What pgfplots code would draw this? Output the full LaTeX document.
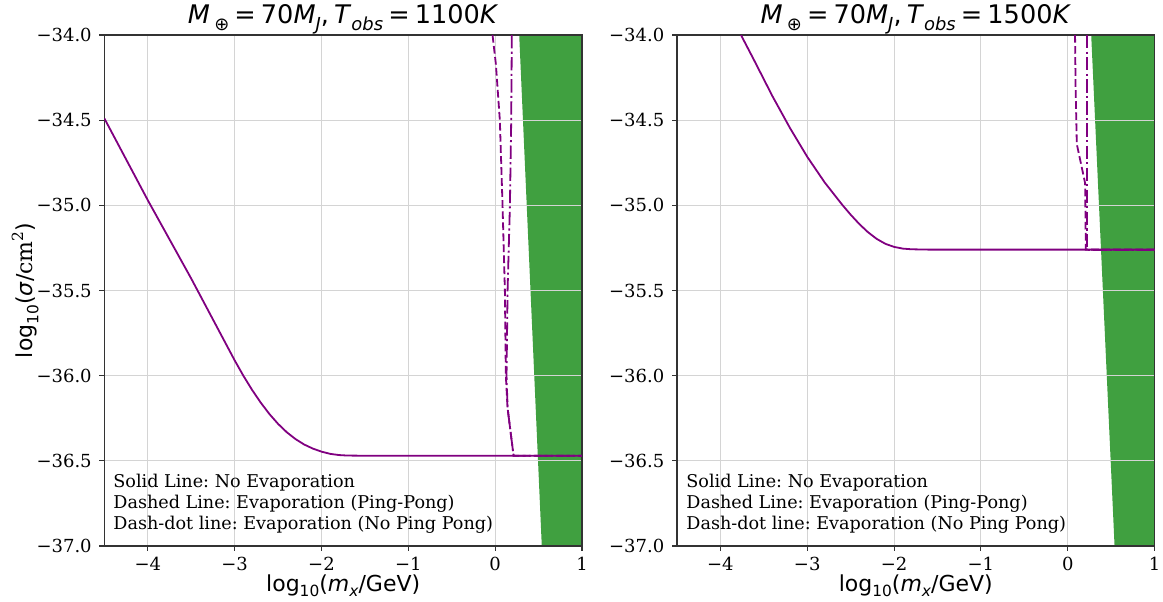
\documentclass[border=0pt]{standalone}
\usepackage{fontspec}
\setmainfont{DejaVu Serif}
\newfontfamily\dvs{DejaVu Sans}
\usepackage{pgfplots}
\pgfplotsset{compat=1.18}
\definecolor{mpurple}{RGB}{128,0,128}
\definecolor{mgreen}{RGB}{64,160,64}
\definecolor{gridc}{RGB}{212,212,212}
\newcommand\sub[1]{\raisebox{-0.25em}{\scalebox{0.7}{#1}}}
\newcommand\sups[1]{\raisebox{0.45em}{\scalebox{0.7}{#1}}}
\newcommand\tsp{\hspace{0.2em}}
\pgfplotsset{myax/.style={
  scale only axis, width=238.8pt, height=255.5pt,
  xmin=-4.5, xmax=1, ymin=-37, ymax=-34,
  xtick={-4,-3,-2,-1,0,1}, xticklabels={−4,−3,−2,−1,0,1},
  ytick={-37,-36.5,-36,-35.5,-35,-34.5,-34},
  yticklabels={−37.0,−36.5,−36.0,−35.5,−35.0,−34.5,−34.0},
  tick align=outside, major tick length=2.45pt, xtick pos=lower, ytick pos=left,
  grid=major, major grid style={gridc, line width=0.5pt},
  axis line style={black!80, line width=0.55pt},
  tick style={black!80, line width=0.55pt},
  ticklabel style={font=\fontsize{9}{10}\selectfont},
  xticklabel style={anchor=north, inner sep=0pt, yshift=-2.8pt},
  yticklabel style={anchor=east, inner sep=0pt, xshift=-3.7pt},
  set layers,
  solid/.style={mpurple, line width=0.9pt},
  dsh/.style={mpurple, line width=0.9pt, dash pattern=on 3.85pt off 1.67pt},
  dd/.style={mpurple, line width=0.9pt, dash pattern=on 6.67pt off 1.67pt on 1.04pt off 1.67pt},
}}
\newcommand\notefont{\fontsize{8.8}{10}\selectfont\frenchspacing}
\newcommand\titlefont{\dvs\fontsize{12.8}{15}\selectfont}
\newcommand\labfont{\dvs\fontsize{11}{13}\selectfont}
\begin{document}
\begin{tikzpicture}
\begin{axis}[myax, at={(0pt,0pt)}, anchor=south west]
\addplot[fill=mgreen, draw=none, on layer=axis background] coordinates {(0.277,-34) (1,-34) (1,-37) (0.537,-37)} -- cycle;
\addplot[solid] coordinates {(-4.5,-34.49) (-4.25,-34.73) (-4.0,-34.97) (-3.75,-35.2) (-3.5,-35.43) (-3.25,-35.67) (-3.0,-35.91) (-2.9,-36.0) (-2.8,-36.083) (-2.7,-36.158) (-2.6,-36.225) (-2.5,-36.283) (-2.4,-36.332) (-2.3,-36.372) (-2.2,-36.404) (-2.1,-36.428) (-2.0,-36.446) (-1.9,-36.459) (-1.8,-36.466) (-1.7,-36.469) (-1.5,-36.47) (1.0,-36.47)};
\addplot[dsh] coordinates {(-0.030,-34.0) (0.008,-34.17) (0.054,-34.5) (0.085,-35.0) (0.112,-35.5) (0.123,-36.0) (0.143,-36.19) (0.212,-36.47) (1.0,-36.47)};
\addplot[dd] coordinates {(0.192,-34.0) (0.185,-34.5) (0.170,-35.0) (0.143,-35.5) (0.131,-36.0) (0.143,-36.19) (0.212,-36.47) (1.0,-36.47)};
\end{axis}
\begin{axis}[myax, at={(286.3pt,0pt)}, anchor=south west]
\addplot[fill=mgreen, draw=none, on layer=axis background] coordinates {(0.270,-34) (1,-34) (1,-37) (0.539,-37)} -- cycle;
\addplot[solid] coordinates {(-3.763,-34.0) (-3.6,-34.16) (-3.4,-34.36) (-3.2,-34.545) (-3.0,-34.715) (-2.8,-34.865) (-2.6,-34.995) (-2.5,-35.055) (-2.4,-35.11) (-2.3,-35.158) (-2.2,-35.197) (-2.1,-35.226) (-2.0,-35.244) (-1.9,-35.254) (-1.8,-35.258) (-1.6,-35.26) (1.0,-35.26)};
\addplot[dsh] coordinates {(0.084,-34.0) (0.090,-34.3) (0.104,-34.64) (0.200,-34.87) (0.208,-35.26) (1.0,-35.26)};
\addplot[dd] coordinates {(0.219,-34.0) (0.219,-35.26) (1.0,-35.26)};
\end{axis}
% titles
\node[anchor=base, inner sep=0pt] at (119.4pt,261pt) {\titlefont\textit{M}\,\sub{⊕}\tsp=\tsp70\textit{M}\sub{\textit{J}},\tsp\textit{T}\sub{\textit{obs}}\tsp=\tsp1100\textit{K}};
\node[anchor=base, inner sep=0pt] at (405.7pt,261pt) {\titlefont\textit{M}\,\sub{⊕}\tsp=\tsp70\textit{M}\sub{\textit{J}},\tsp\textit{T}\sub{\textit{obs}}\tsp=\tsp1500\textit{K}};
% x labels
\node[anchor=base, inner sep=0pt] at (119.4pt,-22.5pt) {\labfont log\sub{10}(\textit{m}\sub{\textit{x}}/GeV)};
\node[anchor=base, inner sep=0pt] at (405.7pt,-22.5pt) {\labfont log\sub{10}(\textit{m}\sub{\textit{x}}/GeV)};
% y label
\node[anchor=base, inner sep=0pt, rotate=90] at (-35.7pt,127.75pt) {\labfont log\sub{10}(\textit{σ}/{\rmfamily cm\sups{2}})};
% notes
\node[anchor=base west, inner sep=0pt] at (4.3pt,29.35pt) {\notefont Solid Line: No Evaporation};
\node[anchor=base west, inner sep=0pt] at (4.3pt,18.85pt) {\notefont Dashed Line: Evaporation (Ping-Pong)};
\node[anchor=base west, inner sep=0pt] at (4.3pt,8.5pt) {\notefont Dash-dot line: Evaporation (No Ping Pong)};
\node[anchor=base west, inner sep=0pt] at (290.8pt,29.35pt) {\notefont Solid Line: No Evaporation};
\node[anchor=base west, inner sep=0pt] at (290.8pt,18.85pt) {\notefont Dashed Line: Evaporation (Ping-Pong)};
\node[anchor=base west, inner sep=0pt] at (290.8pt,8.5pt) {\notefont Dash-dot line: Evaporation (No Ping Pong)};
\pgfresetboundingbox
\useasboundingbox (-52.2pt,-27.5pt) rectangle (529.3pt,273pt);
\end{tikzpicture}
\end{document}
